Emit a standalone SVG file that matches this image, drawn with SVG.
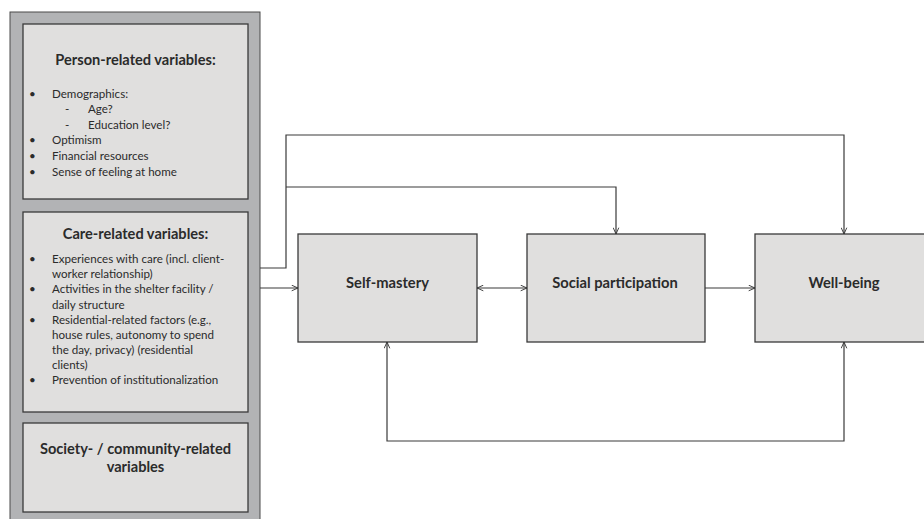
<svg xmlns="http://www.w3.org/2000/svg" width="924" height="519" viewBox="0 0 924 519">
<style>
.panel{fill:#b2b3b5;stroke:#4a4a4a;stroke-width:1}
.box{fill:#e0dfde;stroke:#3a3a3a;stroke-width:1.3}
.h{font-family:Lato,"Liberation Sans",sans-serif;font-weight:bold;font-size:14.6px;fill:#2b2b2b;text-anchor:middle}
.t{font-family:Lato,"Liberation Sans",sans-serif;font-size:11.6px;fill:#2b2b2b}
.lbl{font-family:Lato,"Liberation Sans",sans-serif;font-weight:bold;font-size:14.7px;fill:#2b2b2b;text-anchor:middle}
.c{fill:none;stroke:#3a3a3a;stroke-width:1.2}
</style>
<defs>
<marker id="ah" viewBox="0 0 10 10" refX="10" refY="5" markerWidth="7" markerHeight="7" markerUnits="userSpaceOnUse" orient="auto-start-reverse">
<path d="M1,1 L10,5 L1,9" fill="none" stroke="#333" stroke-width="1.3"/>
</marker>
</defs>
<rect class="panel" x="10" y="12" width="250" height="512"/>
<g id="person">
<rect class="box" x="23" y="24" width="225" height="175"/>
<text class="h" x="135.5" y="65">Person-related variables:</text>
<text class="t" x="29" y="98">•</text><text class="t" x="52" y="98">Demographics:</text>
<text class="t" x="65" y="113">-</text><text class="t" x="88" y="113">Age?</text>
<text class="t" x="65" y="129">-</text><text class="t" x="88" y="129">Education level?</text>
<text class="t" x="29" y="144">•</text><text class="t" x="52" y="144">Optimism</text>
<text class="t" x="29" y="160">•</text><text class="t" x="52" y="160">Financial resources</text>
<text class="t" x="29" y="176">•</text><text class="t" x="52" y="176">Sense of feeling at home</text>
</g>
<g id="care">
<rect class="box" x="23" y="212" width="225" height="200"/>
<text class="h" x="135.5" y="238.5">Care-related variables:</text>
<text class="t" x="29" y="263">•</text><text class="t" x="52" y="263">Experiences with care (incl. client-</text>
<text class="t" x="52" y="278">worker relationship)</text>
<text class="t" x="29" y="293">•</text><text class="t" x="52" y="293">Activities in the shelter facility /</text>
<text class="t" x="52" y="309">daily structure</text>
<text class="t" x="29" y="324">•</text><text class="t" x="52" y="324">Residential-related factors (e.g.,</text>
<text class="t" x="52" y="339">house rules, autonomy to spend</text>
<text class="t" x="52" y="354">the day, privacy) (residential</text>
<text class="t" x="52" y="369">clients)</text>
<text class="t" x="29" y="384">•</text><text class="t" x="52" y="384">Prevention of institutionalization</text>
</g>
<g id="society">
<rect class="box" x="23" y="423" width="225" height="89"/>
<text class="h" x="135.5" y="453.5">Society- / community-related</text>
<text class="h" x="135.5" y="472">variables</text>
</g>
<g id="selfmastery">
<rect class="box" x="298" y="234" width="179" height="108"/>
<text class="lbl" x="387.5" y="288">Self-mastery</text>
</g>
<g id="social">
<rect class="box" x="527" y="234" width="178" height="108"/>
<text class="lbl" x="615" y="288">Social participation</text>
</g>
<g id="wellbeing">
<rect class="box" x="755" y="234" width="180" height="108"/>
<text class="lbl" x="844" y="288">Well-being</text>
</g>
<g id="connectors">
<path class="c" d="M260,268 H286 V135 H844 V234" marker-end="url(#ah)"/>
<path class="c" d="M286,187 H616 V234" marker-end="url(#ah)"/>
<path class="c" d="M260,288 H298" marker-end="url(#ah)"/>
<path class="c" d="M477,288 H527" marker-start="url(#ah)" marker-end="url(#ah)"/>
<path class="c" d="M705,288 H755" marker-end="url(#ah)"/>
<path class="c" d="M387,342 V441 H844 V342" marker-start="url(#ah)" marker-end="url(#ah)"/>
</g>
</svg>
